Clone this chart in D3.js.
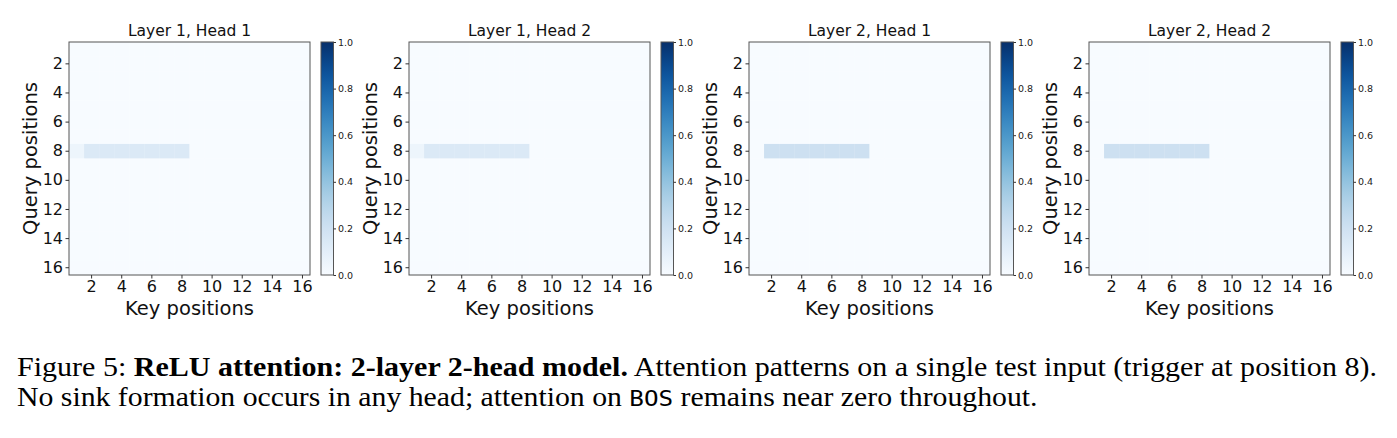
<!DOCTYPE html>
<html>
<head>
<meta charset="utf-8">
<script src="https://cdn.jsdelivr.net/npm/d3@7"></script>
<style>
  body { margin: 0; background: #fff; }
  svg { display: block; }
</style>
</head>
<body>
<script>
// chart data
const titles = ["Layer 1, Head 1", "Layer 1, Head 2", "Layer 2, Head 1", "Layer 2, Head 2"]
const positions = [1, 2, 3, 4, 5, 6, 7, 8, 9, 10, 11, 12, 13, 14, 15, 16]
const tickLabels = [2, 4, 6, 8, 10, 12, 14, 16]
const triggerPos = 8
// attention weights of the query at the trigger position, one per key
const l1h1Row = [0.05, 0.14, 0.14, 0.14, 0.14, 0.14, 0.14, 0.14, 0, 0, 0, 0, 0, 0, 0, 0]
const l1h2Row = [0.05, 0.14, 0.14, 0.14, 0.14, 0.14, 0.14, 0.14, 0, 0, 0, 0, 0, 0, 0, 0]
const l2h1Row = [0, 0.21, 0.21, 0.21, 0.21, 0.21, 0.21, 0.21, 0, 0, 0, 0, 0, 0, 0, 0]
const l2h2Row = [0, 0.21, 0.21, 0.21, 0.21, 0.21, 0.21, 0.21, 0, 0, 0, 0, 0, 0, 0, 0]
const cbarTicks = [0, 0.2, 0.4, 0.6, 0.8, 1.0]

const rows = [l1h1Row, l1h2Row, l2h1Row, l2h2Row]

const WIDTH = 1397
const HEIGHT = 438
const PLOT = { left: 69, top: 42, width: 241, height: 233, step: 340 }
const CBAR = { gap: 11, width: 12.5 }

const color = d3.scaleSequential(d3.interpolateBlues).domain([0, 1])

const svg = d3.select("body")
    .append("svg")
    .attr("width", WIDTH)
    .attr("height", HEIGHT)

const defs = svg.append("defs")
const grad = defs.append("linearGradient")
    .attr("id", "blues")
    .attr("x1", 0).attr("y1", 1).attr("x2", 0).attr("y2", 0)
d3.range(0, 1.0001, 0.05).forEach(t => {
    grad.append("stop").attr("offset", t).attr("stop-color", color(t))
})

const x = d3.scaleBand().domain(positions).range([0, PLOT.width])
const y = d3.scaleBand().domain(positions).range([0, PLOT.height])
const cy = d3.scaleLinear().domain([0, 1]).range([PLOT.height, 0])

titles.forEach((title, i) => {
    const g = svg.append("g")
        .attr("transform", `translate(${PLOT.left + i * PLOT.step},${PLOT.top})`)

    const cells = []
    positions.forEach(q => {
        positions.forEach((k, j) => {
            cells.push({ q, k, v: q === triggerPos ? rows[i][j] : 0 })
        })
    })

    g.selectAll(".cell")
        .data(cells)
        .enter()
        .append("rect")
        .attr("class", "cell")
        .attr("x", d => x(d.k))
        .attr("y", d => y(d.q))
        .attr("width", x.bandwidth() + 0.3)
        .attr("height", y.bandwidth() + 0.3)
        .attr("fill", d => color(d.v))

    g.append("rect")
        .attr("width", PLOT.width)
        .attr("height", PLOT.height)
        .attr("fill", "none")
        .attr("stroke", "#555")
        .attr("stroke-width", 1)

    const xAxis = g.append("g")
        .attr("transform", `translate(0,${PLOT.height})`)
        .call(d3.axisBottom(x).tickValues(tickLabels).tickSize(3.5).tickPadding(2.5))
    const yAxis = g.append("g")
        .call(d3.axisLeft(y).tickValues(tickLabels).tickSize(3.5).tickPadding(2.5))

    ;[xAxis, yAxis].forEach(a => {
        a.select(".domain").remove()
        a.selectAll("line").attr("stroke", "#333")
        a.selectAll("text")
            .attr("font-family", "DejaVu Sans")
            .attr("font-size", 16)
            .attr("fill", "#111")
    })

    g.append("text")
        .attr("x", PLOT.width / 2)
        .attr("y", -6)
        .attr("text-anchor", "middle")
        .attr("font-family", "DejaVu Sans")
        .attr("font-size", 15.5)
        .attr("fill", "#111")
        .text(title)

    g.append("text")
        .attr("x", PLOT.width / 2)
        .attr("y", PLOT.height + 40)
        .attr("text-anchor", "middle")
        .attr("font-family", "DejaVu Sans")
        .attr("font-size", 19.5)
        .attr("fill", "#111")
        .text("Key positions")

    g.append("text")
        .attr("transform", `translate(-32,${PLOT.height / 2}) rotate(-90)`)
        .attr("text-anchor", "middle")
        .attr("font-family", "DejaVu Sans")
        .attr("font-size", 19.5)
        .attr("fill", "#111")
        .text("Query positions")

    // colorbar
    const cb = g.append("g")
        .attr("transform", `translate(${PLOT.width + CBAR.gap},0)`)
    cb.append("rect")
        .attr("width", CBAR.width)
        .attr("height", PLOT.height)
        .attr("fill", "url(#blues)")
        .attr("stroke", "#555")
        .attr("stroke-width", 1)
    const cbAxis = cb.append("g")
        .attr("transform", `translate(${CBAR.width},0)`)
        .call(d3.axisRight(cy).tickValues(cbarTicks).tickFormat(d3.format(".1f")).tickSize(2.5).tickPadding(2))
    cbAxis.select(".domain").remove()
    cbAxis.selectAll("line").attr("stroke", "#333")
    cbAxis.selectAll("text")
        .attr("font-family", "DejaVu Sans")
        .attr("font-size", 9.5)
        .attr("fill", "#222")
})

// caption, stretched sideways to the width of the original
const cap = svg.append("g")
    .attr("font-family", "Liberation Serif")
    .attr("font-size", 27)
    .attr("fill", "#000")

const line1 = cap.append("text")
line1.append("tspan").text("Figure 5: ")
line1.append("tspan").attr("font-weight", "bold").text("ReLU attention: 2-layer 2-head model.")
line1.append("tspan").text(" Attention patterns on a single test input (trigger at position 8).")

const line2 = cap.append("text")
line2.append("tspan").text("No sink formation occurs in any head; attention on ")
line2.append("tspan").attr("font-family", "DejaVu Sans Mono").attr("font-size", 22).text("BOS")
line2.append("tspan").text(" remains near zero throughout.")

const fit = (sel, x0, y0, target) => {
    const len = sel.node().getComputedTextLength()
    sel.attr("transform", `translate(${x0},${y0}) scale(${target / len},1)`)
}
fit(line1, 17, 376, 1361)
fit(line2, 17, 406, 1021)
</script>
</body>
</html>
